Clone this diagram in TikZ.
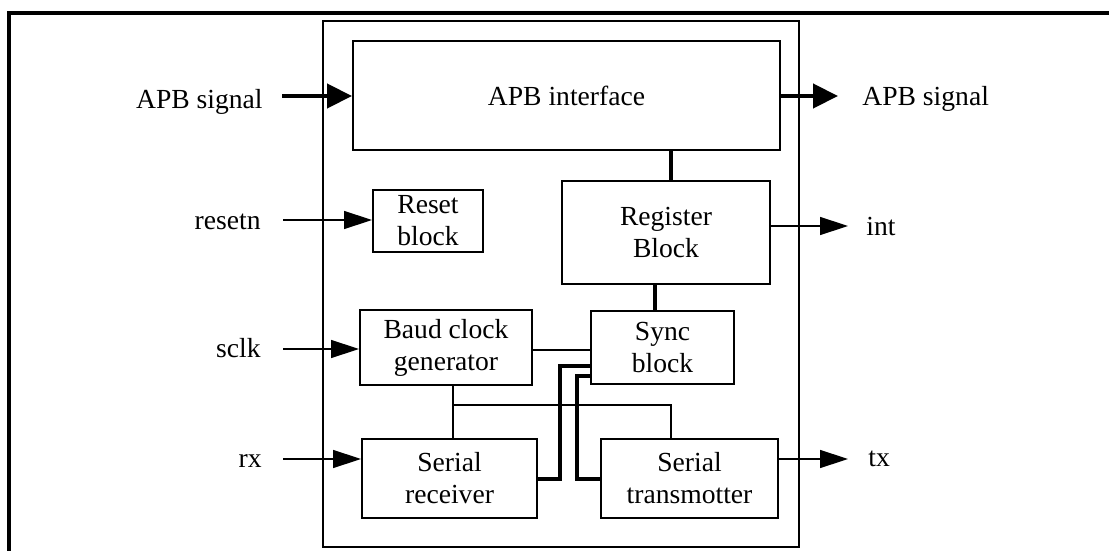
\documentclass[tikz,border=0pt]{standalone}
\usepackage{fontspec}
\setmainfont{Liberation Serif}
\usetikzlibrary{arrows.meta,calc}
\begin{document}
\begin{tikzpicture}[x=0.5pt,y=-0.5pt,
  every node/.style={font=\fontsize{13.8pt}{16pt}\selectfont, inner sep=0pt},
  blk/.style={draw, line width=1pt, align=center},
  lbl/.style={anchor=base east},
  rlbl/.style={anchor=base west},
  thinarrow/.style={line width=0.7pt, -{Triangle[length=14pt,width=9pt]}},
  bigarrow/.style={line width=2.2pt, -{Triangle[length=12.5pt,width=12pt]}},
  bus/.style={line width=2pt, line join=miter},
  wire/.style={line width=0.7pt}]
\useasboundingbox (0,0) rectangle (1109,551);
% outer frame (cropped)
\draw[line width=1.8pt] (9,551) -- (9,13) -- (1109,13);
% inner box
\draw[line width=1pt] (323,21) rectangle (799,547);
% blocks
\node[blk, minimum width=213.5pt, minimum height=54.5pt] (apb) at (566.5,95.5) {APB interface};
\node[blk, minimum width=104pt, minimum height=51.5pt] (reg) at (666,232.5) {Register\\Block};
\node[blk, minimum width=55pt, minimum height=31pt] (rst) at (428,221) {Reset\\block};
\node[blk, minimum width=86pt, minimum height=37.5pt] (baud) at (446,347.5) {Baud clock\\generator};
\node[blk, minimum width=71.5pt, minimum height=36.5pt] (sync) at (662.5,347.5) {Sync\\block};
\node[blk, minimum width=87.5pt, minimum height=39.5pt] (rcv) at (449.5,478.5) {Serial\\receiver};
\node[blk, minimum width=88.5pt, minimum height=39.5pt] (xmt) at (689.5,478.5) {Serial\\transmotter};
% labels
\node[lbl] (lapbin) at (263,109) {APB signal};
\node[lbl] (lrst) at (261,229) {resetn};
\node[lbl] (lsclk) at (261,357) {sclk};
\node[lbl] (lrx) at (262,467) {rx};
\node[rlbl] (lapbout) at (862,106) {APB signal};
\node[rlbl] (lint) at (866,235) {int};
\node[rlbl] (ltx) at (868,466) {tx};
% free ends
\coordinate (apbS) at (282,96);
\coordinate (apbE) at (838,96);
\coordinate (rstS) at (283,220);
\coordinate (intE) at (848,226);
\coordinate (sclkS) at (283,349);
\coordinate (rxS) at (283,459);
\coordinate (txE) at (848,459);
\coordinate (j1) at (453,405);
\coordinate (j2) at (671,405);
\coordinate (k1) at (560,366);
\coordinate (k2) at (577,376);
% arrows
\draw[bigarrow] (apbS) -- (apbS -| apb.west);
\draw[bigarrow] (apb.east |- apbE) -- (apbE);
\draw[thinarrow] (rstS) -- (rstS -| rst.west);
\draw[thinarrow] (reg.east |- intE) -- (intE);
\draw[thinarrow] (sclkS) -- (sclkS -| baud.west);
\draw[thinarrow] (rxS) -- (rxS -| rcv.west);
\draw[thinarrow] (xmt.east |- txE) -- (txE);
% internal connections
\draw[line width=2pt] ([xshift=2.5pt]reg.north) -- ([xshift=2.5pt]reg.north |- apb.south);
\draw[line width=2pt] ([xshift=-3.75pt]sync.north) -- ([xshift=-3.75pt]sync.north |- reg.south);
\draw[wire] ([yshift=-1.25pt]baud.east) -- ([yshift=-1.25pt]sync.west);
\draw[wire] (j1 |- baud.south) -- (j1 |- rcv.north);
\draw[wire] (j1) -- (j2) -- (j2 |- xmt.north);
\draw[bus] (rcv.east) -| (k1) -- (k1 -| sync.west);
\draw[bus] (k2 -| sync.west) -- (k2) |- (xmt.west);
\end{tikzpicture}
\end{document}
